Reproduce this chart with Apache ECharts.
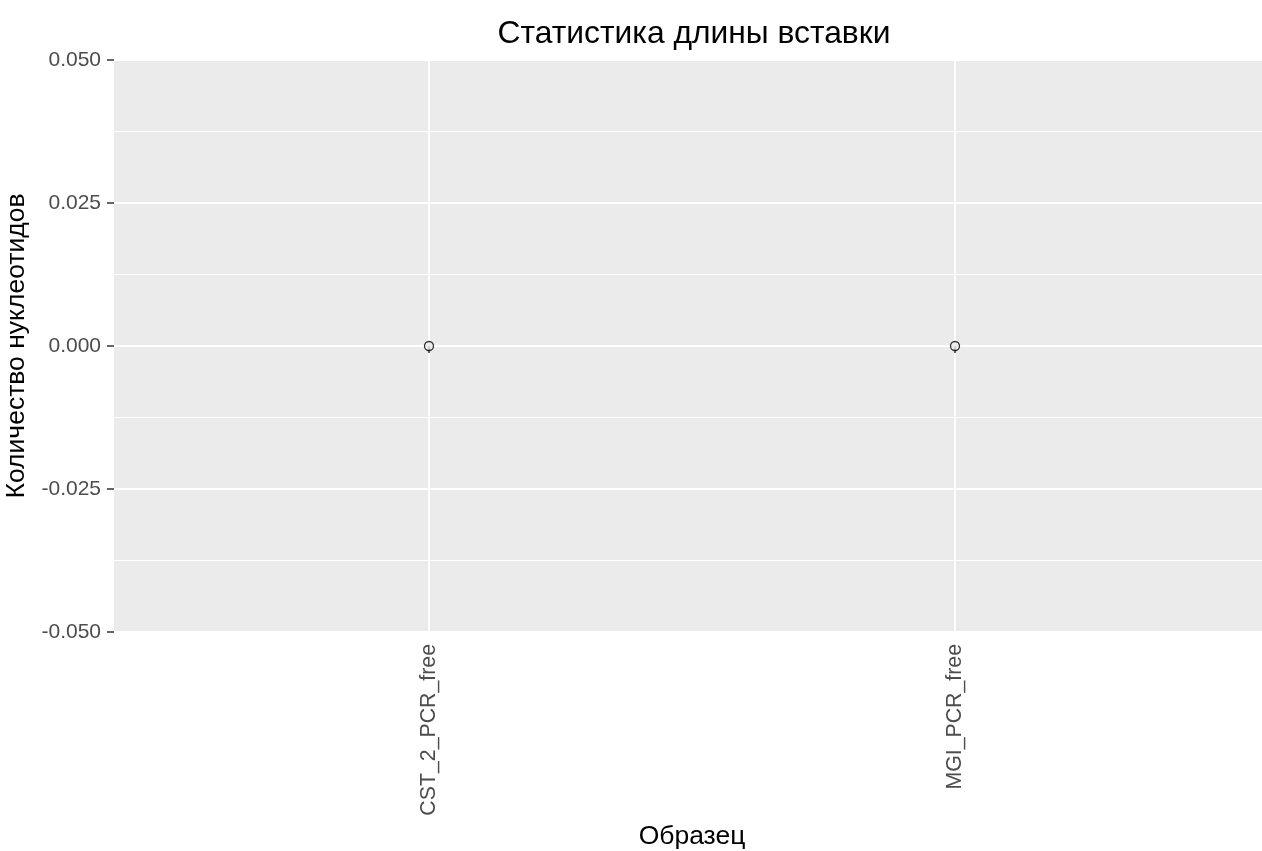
<!DOCTYPE html>
<html><head><meta charset="utf-8">
<script src="https://cdn.jsdelivr.net/npm/echarts@6/dist/echarts.min.js"></script>
<style>html,body{margin:0;padding:0;background:#fff}#c{width:1262px;height:851px}</style>
</head><body><div id="c"></div>
<script>
const categories = ['CST_2_PCR_free', 'MGI_PCR_free'];
const values = [0, 0];
const yTicks = [-0.05, -0.025, 0, 0.025, 0.05];

const FONT = '"Liberation Sans", Arial, sans-serif';
const chart = echarts.init(document.getElementById('c'), null, {renderer: 'canvas'});
const gridTop = 60, gridBottom = 219;
chart.setOption({
  backgroundColor: '#ffffff',
  animation: false,
  title: {
    text: 'Статистика длины вставки', left: 689, top: 13, textAlign: 'center',
    textStyle: {fontFamily: FONT, fontSize: 31.8, fontWeight: 'normal', color: '#000'}
  },
  grid: [
    {left: 114, right: 0, top: gridTop, bottom: gridBottom, show: true, backgroundColor: '#EBEBEB', borderWidth: 0, containLabel: false, outerBoundsMode: 'none'},
    {left: 429, width: 526, top: gridTop, bottom: gridBottom, show: false, containLabel: false, outerBoundsMode: 'none'}
  ],
  xAxis: [
    {gridIndex: 0, type: 'value', min: 0, max: 1, show: false},
    {gridIndex: 1, type: 'category', data: categories, boundaryGap: false,
     name: 'Образец', nameLocation: 'middle', nameGap: 187,
     nameTextStyle: {fontFamily: FONT, fontSize: 26.5, color: '#000'},
     axisLine: {show: false},
     axisTick: {show: true, length: 7, lineStyle: {color: '#333333', width: 1.5}},
     axisLabel: {rotate: 90, margin: 12, fontFamily: FONT, fontSize: 21.3, color: '#4D4D4D'},
     splitLine: {show: true, lineStyle: {color: '#ffffff', width: 2}}
    }
  ],
  yAxis: [
    {gridIndex: 0, type: 'value', min: yTicks[0], max: yTicks[yTicks.length - 1], interval: 0.025,
     name: 'Количество нуклеотидов', nameLocation: 'middle', nameGap: 77, nameRotate: 90,
     nameTextStyle: {fontFamily: FONT, fontSize: 26.5, color: '#000'},
     axisLine: {show: false},
     axisTick: {show: true, length: 7, lineStyle: {color: '#333333', width: 1.5}},
     axisLabel: {margin: 13, fontFamily: FONT, fontSize: 21, color: '#4D4D4D',
       formatter: v => v.toFixed(3)},
     splitLine: {show: true, lineStyle: {color: '#ffffff', width: 2}},
     minorTick: {show: false, splitNumber: 2},
     minorSplitLine: {show: true, lineStyle: {color: '#ffffff', width: 1}}
    },
    {gridIndex: 1, type: 'value', min: yTicks[0], max: yTicks[yTicks.length - 1], interval: 0.025, show: false, splitLine: {show: false}}
  ],
  series: [{
    type: 'scatter', xAxisIndex: 1, yAxisIndex: 1,
    data: values, symbol: 'circle', symbolSize: 9,
    itemStyle: {color: '#EBEBEB', borderColor: '#000000', borderWidth: 1.3},
    clip: false
  }]
});
</script></body></html>
